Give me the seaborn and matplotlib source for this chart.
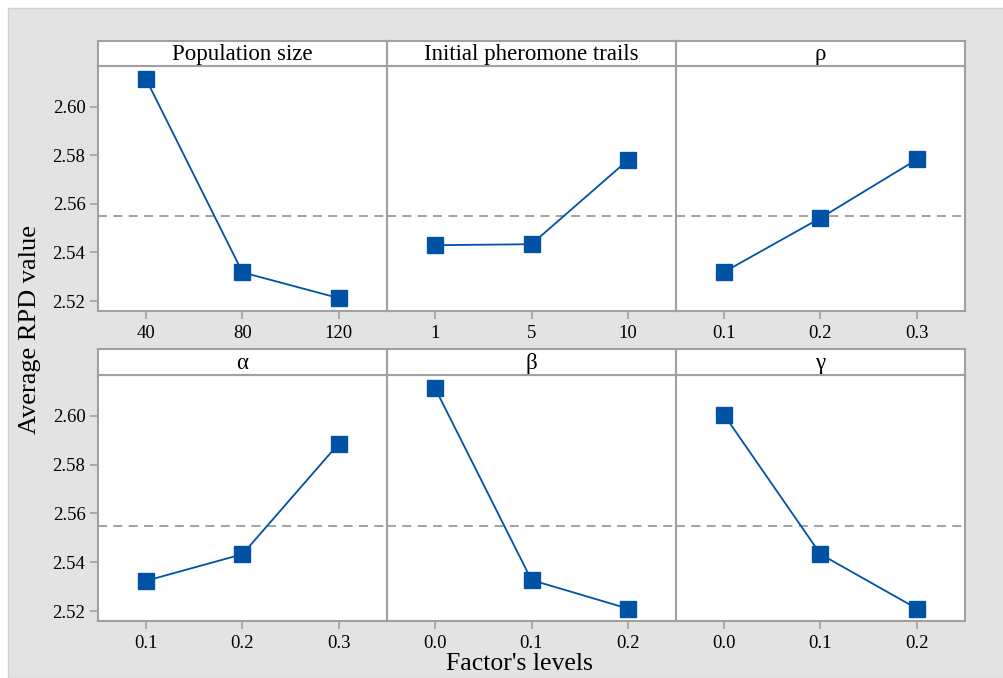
import matplotlib.pyplot as plt
import seaborn as sns
import pandas as pd
from matplotlib.patches import Rectangle

# data
factors = ["Population size", "Initial pheromone trails", "ρ", "α", "β", "γ"]
levels = [
    ["40", "80", "120"],
    ["1", "5", "10"],
    ["0.1", "0.2", "0.3"],
    ["0.1", "0.2", "0.3"],
    ["0.0", "0.1", "0.2"],
    ["0.0", "0.1", "0.2"],
]
rpd = [
    [2.6113, 2.5318, 2.5212],
    [2.5430, 2.5434, 2.5780],
    [2.5320, 2.5542, 2.5783],
    [2.5324, 2.5433, 2.5887],
    [2.6113, 2.5327, 2.5210],
    [2.6004, 2.5433, 2.5210],
]
grand_mean = 2.5549
y_ticks = [2.52, 2.54, 2.56, 2.58, 2.60]

sns.set_theme(style="white")
plt.rcParams['font.family'] = ['Liberation Serif', 'DejaVu Serif']
plt.rcParams['text.color'] = 'black'
plt.rcParams['xtick.labelcolor'] = 'black'
plt.rcParams['ytick.labelcolor'] = 'black'

W, H = 1004, 678
fig = plt.figure(figsize=(W / 100, H / 100), dpi=100, facecolor="white")
bg = Rectangle((8 / W, 0), 1, 1 - 8 / H, transform=fig.transFigure,
               facecolor="#e3e3e3", edgecolor="#cfcfcf", lw=1, zorder=-10)
fig.patches.append(bg)

BLUE = "#0052a5"
SPINE = "#a0a0a0"
col_edges = [98, 387, 676, 965]
rows = [(41, 66, 311), (349, 375, 621)]  # strip top, plot top, plot bottom (px)

for i, (name, lv, vals) in enumerate(zip(factors, levels, rpd)):
    r, c = divmod(i, 3)
    s_top, p_top, p_bot = rows[r]
    x0, x1 = col_edges[c], col_edges[c + 1]
    ax = fig.add_axes([x0 / W, 1 - p_bot / H, (x1 - x0) / W, (p_bot - p_top) / H])
    strip = fig.add_axes([x0 / W, 1 - p_top / H, (x1 - x0) / W, (p_top - s_top) / H])

    df = pd.DataFrame({"level": lv, "rpd": vals})
    ax.axhline(grand_mean, color="#9a9a9a", ls=(0, (5, 3.5)), lw=1.3, zorder=1)
    sns.pointplot(data=df, x="level", y="rpd", order=lv, ax=ax, color=BLUE,
                  markers="s", markersize=11, linewidth=1.3, zorder=3)

    ax.set_xlim(-0.5, 2.5)
    ax.set_ylim(2.5159, 2.6168)
    ax.set_yticks(y_ticks)
    ax.set_xlabel("")
    ax.set_ylabel("")
    ax.tick_params(axis="both", direction="out", length=6, width=1.2, color=SPINE,
                   labelsize=13.5, pad=3, left=(c == 0), bottom=True)
    ax.tick_params(axis="x", pad=4)
    if c == 0:
        ax.set_yticklabels([f"{t:.2f}" for t in y_ticks])
    else:
        ax.set_yticklabels([])
    for sp in ax.spines.values():
        sp.set_color(SPINE)
        sp.set_linewidth(1.5)
    ax.set_facecolor("white")

    strip.set_xticks([])
    strip.set_yticks([])
    strip.set_facecolor("white")
    for sp in strip.spines.values():
        sp.set_color(SPINE)
        sp.set_linewidth(1.5)
    strip.text(0.5, 0.45, name, ha="center", va="center", fontsize=16.5,
               transform=strip.transAxes)

fig.text(30 / W, 1 - 330 / H, "Average RPD value", rotation=90, ha="center",
         va="center", fontsize=19)
fig.text(519 / W, 1 - 664 / H, "Factor's levels", ha="center", va="center",
         fontsize=18.5)

fig.savefig("out.png", dpi=100, facecolor=fig.get_facecolor())
